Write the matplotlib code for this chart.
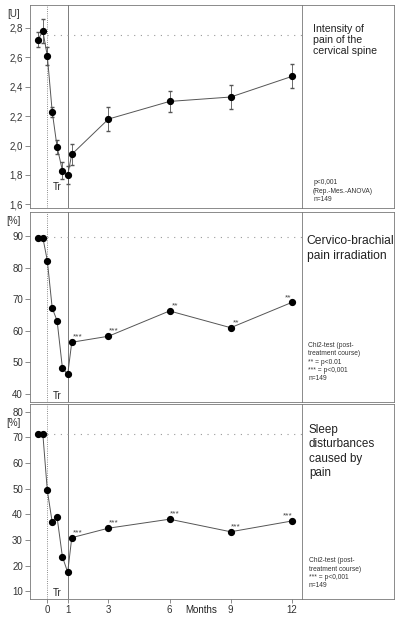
import matplotlib
matplotlib.use('Agg')
import matplotlib.pyplot as plt
from matplotlib.ticker import FuncFormatter

plt.rcParams['font.family'] = ['Liberation Sans', 'DejaVu Sans']

# x positions in months (pre-treatment, weekly during treatment, follow-up)
months = [-0.45, -0.22, 0, 0.24, 0.48, 0.74, 1.0, 1.2, 3, 6, 9, 12]
month_ticks = [0, 1, 3, 6, 9, 12]

pain = [2.72, 2.78, 2.61, 2.23, 1.99, 1.83, 1.80, 1.94, 2.18, 2.30, 2.33, 2.47]
pain_err = [0.053, 0.08, 0.06, 0.035, 0.05, 0.06, 0.06, 0.07, 0.083, 0.074, 0.08, 0.082]
pain_ref = 2.755

irradiation = [89.5, 89.5, 82.2, 67.2, 63.2, 48.3, 46.2, 56.4, 58.3, 66.3, 61.0, 69.0]
irr_stars = ['', '', '', '', '', '', '', '***', '***', '**', '**', '**']
irr_ref = 89.6

sleep = [71.3, 71.3, 49.3, 36.9, 38.8, 23.5, 17.4, 30.9, 34.6, 38.1, 33.2, 37.4]
sleep_stars = ['', '', '', '', '', '', '', '***', '***', '***', '***', '***']
sleep_ref = 71.3

W, H = 397, 625
fig = plt.figure(figsize=(W / 100, H / 100), dpi=100)

gray = '#777777'
ink = '#222222'


def box(top, bottom):
    # panel rectangle in pixel rows -> figure fractions
    return (H - bottom) / H, (bottom - top) / H


def panel(top, bottom, ylim, yticks, unit, unit_y):
    b, h = box(top, bottom)
    ax = fig.add_axes([30 / W, b, 272 / W, h])
    tx = fig.add_axes([302 / W, b, 92 / W, h])
    for a in (ax, tx):
        for s in a.spines.values():
            s.set_color(gray)
            s.set_linewidth(0.6)
    tx.set_xticks([])
    tx.set_yticks([])
    ax.set_xlim(-0.85, 12.5)
    ax.set_ylim(*ylim)
    ax.set_yticks(yticks)
    ax.tick_params(axis='y', length=3.6, width=0.6, color=gray, pad=1.5,
                   labelsize=7, labelcolor='#333333')
    ax.axvline(0, color='#666666', lw=0.6, ls=':')
    ax.axvline(1, color='#666666', lw=0.6)
    ax.text(-0.06, unit_y, unit, transform=ax.transAxes, ha='center',
            va='center', fontsize=7, color='#333333')
    return ax, tx


def stars(ax, values, marks):
    for x, y, s in zip(months, values, marks):
        if s:
            dx = -3 if x == 12 else 4
            ax.annotate(s, (x, y), xytext=(dx, 2.5), textcoords='offset points',
                        ha='center', va='baseline', fontsize=6, color='#444444')


def tr(ax, y):
    ax.text(0.5, y, 'Tr', transform=ax.get_xaxis_transform(), ha='center',
            va='bottom', fontsize=7, color=ink)


# panel 1: intensity of pain
ax1, tx1 = panel(5, 208, (1.575, 2.956), [1.6, 1.8, 2.0, 2.2, 2.4, 2.6, 2.8], '[U]', 0.956)
ax1.yaxis.set_major_formatter(FuncFormatter(lambda v, p: f'{v:.1f}'.replace('.', ',')))
ax1.set_xticks([])
ax1.hlines(pain_ref, 0, 12.5, colors='#999999', lw=0.8, linestyles=(0, (1, 5)))
ax1.errorbar(months, pain, yerr=pain_err, color='#555555', lw=0.7, elinewidth=0.6,
             capsize=1.5, marker='o', ms=4.2, mfc='black', mec='black', zorder=3)
tr(ax1, 0.08)
tx1.text(0.12, 0.906, 'Intensity of\npain of the\ncervical spine', transform=tx1.transAxes,
         ha='left', va='top', fontsize=7.6, color=ink, linespacing=1.15)
tx1.text(0.12, 0.025, 'p<0,001\n(Rep.-Mes.-ANOVA)\nn=149', transform=tx1.transAxes,
         ha='left', va='bottom', fontsize=4.8, color='#333333', linespacing=1.25)

# panel 2: cervico-brachial pain irradiation
ax2, tx2 = panel(212, 402, (37.5, 97.6), [40, 50, 60, 70, 80, 90], '[%]', 0.953)
ax2.set_xticks([])
ax2.hlines(irr_ref, 0, 12.5, colors='#999999', lw=0.8, linestyles=(0, (1, 5)))
ax2.plot(months, irradiation, color='#555555', lw=0.7, marker='o', ms=4.2,
         mfc='black', mec='black', zorder=3)
stars(ax2, irradiation, irr_stars)
tr(ax2, 0.005)
tx2.text(0.05, 0.879, 'Cervico-brachial\npain irradiation', transform=tx2.transAxes,
         ha='left', va='top', fontsize=8.7, color=ink, linespacing=1.3)
tx2.text(0.07, 0.105, 'Chi2-test (post-\ntreatment course)\n** = p<0.01\n*** = p<0,001\nn=149',
         transform=tx2.transAxes, ha='left', va='bottom', fontsize=4.8,
         color='#333333', linespacing=1.25)

# panel 3: sleep disturbances
ax3, tx3 = panel(404, 599, (7, 83), [10, 20, 30, 40, 50, 60, 70, 80], '[%]', 0.903)
ax3.hlines(sleep_ref, 0, 12.5, colors='#999999', lw=0.8, linestyles=(0, (1, 5)))
ax3.plot(months, sleep, color='#555555', lw=0.7, marker='o', ms=4.2,
         mfc='black', mec='black', zorder=3)
stars(ax3, sleep, sleep_stars)
tr(ax3, 0.005)
ax3.set_xticks(month_ticks)
ax3.tick_params(axis='x', length=3, width=0.6, color=gray, pad=1,
                labelsize=7, labelcolor='#333333')
fig.text(201 / W, 1 - 610 / H, 'Months', ha='center', va='center', fontsize=7, color=ink)
tx3.text(0.076, 0.897, 'Sleep\ndisturbances\ncaused by\npain', transform=tx3.transAxes,
         ha='left', va='top', fontsize=8.4, color=ink, linespacing=1.25)
tx3.text(0.076, 0.05, 'Chi2-test (post-\ntreatment course)\n*** = p<0,001\nn=149',
         transform=tx3.transAxes, ha='left', va='bottom', fontsize=4.8,
         color='#333333', linespacing=1.25)

fig.savefig('out.png', dpi=100, facecolor='white')
